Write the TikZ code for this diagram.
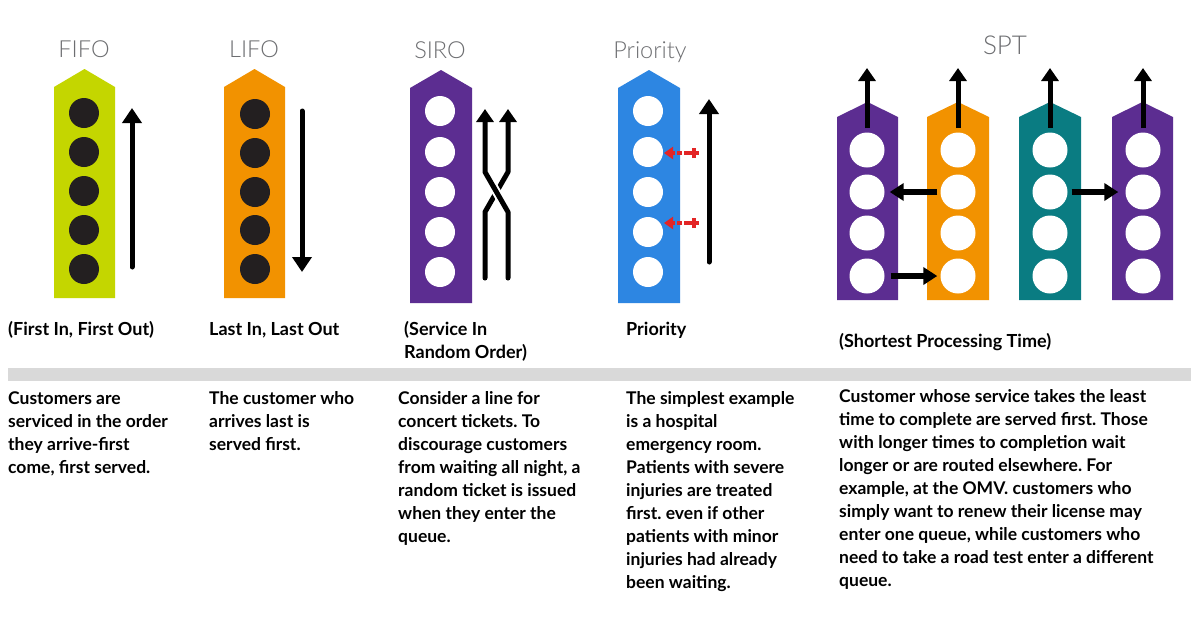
\documentclass[tikz,border=0pt]{standalone}
\usepackage{fontspec}
\setmainfont{Lato}
\newfontfamily\thinfont{Lato Light}
\usetikzlibrary{arrows.meta}
\definecolor{limec}{HTML}{C4D600}
\definecolor{orangec}{HTML}{F29200}
\definecolor{purplec}{HTML}{5C2D91}
\definecolor{bluec}{HTML}{2D86E2}
\definecolor{tealc}{HTML}{0A7C82}
\definecolor{dotc}{HTML}{231F20}
\definecolor{titlec}{HTML}{6D6E71}
\definecolor{barc}{HTML}{D9D9D9}
\definecolor{redc}{HTML}{E32526}
\newcommand\qcolumn[6]{\fill[#1] (#2,#6) -- (#2,#5) -- ({(#2+#3)/2},#4) -- (#3,#5) -- (#3,#6) -- cycle;}
\frenchspacing
\begin{document}
\begin{tikzpicture}[x=1pt,y=-1pt,
  blackdot/.style={circle,fill=dotc,minimum size=30pt,inner sep=0pt},
  whitedot/.style={circle,fill=white,minimum size=30pt,inner sep=0pt},
  bigdot/.style={circle,fill=white,minimum size=35pt,inner sep=0pt},
  title/.style={font=\thinfont\fontsize{23.5}{26}\selectfont,text=titlec,anchor=base,inner sep=0pt},
  head/.style={font=\bfseries\fontsize{18}{23}\selectfont,anchor=north west,align=left,inner sep=0pt},
  body/.style={font=\bfseries\fontsize{17.5}{23}\selectfont,anchor=north west,align=left,inner sep=0pt},
  flow/.style={line width=5pt,-{Triangle[width=19pt,length=15pt]}},
  sflow/.style={line width=5pt,-{Triangle[width=17pt,length=13pt]}},
  hflow/.style={line width=6pt,-{Triangle[width=17pt,length=14pt]}},
  redflow/.style={draw=redc,line width=3.5pt,dash pattern=on 5pt off 2pt,-{Triangle[width=12pt,length=9pt]}}
]
\useasboundingbox (0,0) rectangle (1200,630);
\fill[white] (0,0) rectangle (1200,630);
% titles
\node[title] (tfifo) at (84,57) {FIFO};
\node[title] (tlifo) at (254,57) {LIFO};
\node[title] (tsiro) at (440,58) {SIRO};
\node[title] (tprio) at (650,58) {Priority};
\node[title,font=\thinfont\fontsize{26}{30}\selectfont] (tspt) at (1005,54) {SPT};
% FIFO
\qcolumn{limec}{54}{115}{69}{87}{298}
\foreach \i/\y in {1/113,2/152,3/191,4/230,5/269} \node[blackdot] (fifo\i) at (84,\y) {};
\coordinate (fifoA) at (132,267); \coordinate (fifoB) at (132,108);
\draw[flow,line cap=round] (fifoA) -- (fifoB);
% LIFO
\qcolumn{orangec}{224}{285}{69}{87}{298}
\foreach \i/\y in {1/114,2/153,3/192,4/230,5/269} \node[blackdot] (lifo\i) at (255,\y) {};
\coordinate (lifoA) at (302,111); \coordinate (lifoB) at (302,272);
\draw[flow,line cap=round] (lifoA) -- (lifoB);
% SIRO
\qcolumn{purplec}{410}{472}{70}{88}{303}
\foreach \i/\y in {1/111,2/152,3/192,4/232,5/272} \node[whitedot] (siro\i) at (440,\y) {};
\coordinate (sa0) at (485,278); \coordinate (sa1) at (485,212); \coordinate (sa2) at (508,172); \coordinate (sa3) at (508,109);
\coordinate (sb0) at (508,278); \coordinate (sb1) at (508,212); \coordinate (sb2) at (485,172); \coordinate (sb3) at (485,109);
\draw[sflow,line cap=round,line join=round] (sa0) -- (sa1) -- (sa2) -- (sa3);
\draw[white,line width=9pt,shorten <=6pt,shorten >=6pt] (sb1) -- (sb2);
\draw[sflow,line cap=round,line join=round] (sb0) -- (sb1) -- (sb2) -- (sb3);
% Priority
\qcolumn{bluec}{618}{680}{70}{88}{303}
\foreach \i/\y in {1/111,2/152,3/192,4/232,5/272} \node[whitedot] (prio\i) at (648,\y) {};
\coordinate (pA) at (709,262); \coordinate (pB) at (709,99);
\draw[flow,line cap=round] (pA) -- (pB);
\foreach \y/\n in {153/1,223/2}{
  \coordinate (rp\n) at (694,\y);
  \draw[redflow] ([xshift=-5pt]rp\n) -- ([xshift=-30pt]rp\n);
  \draw[redc,line width=3.5pt] ([xshift=-5pt]rp\n) -- ([xshift=5pt]rp\n);
  \draw[redc,line width=3.5pt] ([yshift=-5pt]rp\n) -- ([yshift=5pt]rp\n);
}
% SPT
\qcolumn{purplec}{837}{898}{102}{117}{300}
\qcolumn{orangec}{927}{989}{102}{117}{300}
\qcolumn{tealc}{1019}{1081}{102}{117}{300}
\qcolumn{purplec}{1112}{1173}{102}{117}{300}
\foreach \c/\x in {a/867,b/958,c/1050,d/1143}{
  \foreach \i/\y in {1/150,2/192,3/233,4/276} \node[bigdot] (\c\i) at (\x,\y) {};
  \coordinate (\c top) at (\x,128); \coordinate (\c tip) at (\x,68);
  \draw[sflow] (\c top) -- (\c tip);
}
\draw[hflow] ([xshift=-3pt]b2.west) -- ([xshift=5pt]a2.east);
\draw[hflow] ([xshift=6pt]a4.east) -- ([xshift=-3pt]b4.west);
\draw[hflow] ([xshift=4pt]c2.east) -- ([xshift=-7pt]d2.west);
% bar
\fill[barc] (8,368) rectangle (1191,381);
% headings
\node[head] (h1) at (8,319) {\strut(First In, First Out)};
\node[head] (h2) at (209,319) {\strut Last In, Last Out};
\node[head] (h3) at (404,319) {\strut(Service In\\Random Order)};
\node[head] (h4) at (626,319) {\strut Priority};
\node[head] (h5) at (839,331) {\strut(Shortest Processing Time)};
% bodies
\node[body] (b1) at (8,388) {\strut Customers are\\serviced in the order\\they arrive-first\\come, first served.};
\node[body] (b2) at (209,388) {\strut The customer who\\arrives last is\\served first.};
\node[body] (b3) at (398,388) {\strut Consider a line for\\concert tickets. To\\discourage customers\\from waiting all night, a\\random ticket is issued\\when they enter the\\queue.};
\node[body] (b4) at (626,388) {\strut The simplest example\\is a hospital\\emergency room.\\Patients with severe\\injuries are treated\\first. even if other\\patients with minor\\injuries had already\\been waiting.};
\node[body] (b5) at (839,386) {\strut Customer whose service takes the least\\time to complete are served first. Those\\with longer times to completion wait\\longer or are routed elsewhere. For\\example, at the OMV. customers who\\simply want to renew their license may\\enter one queue, while customers who\\need to take a road test enter a different\\queue.};
\end{tikzpicture}
\end{document}
